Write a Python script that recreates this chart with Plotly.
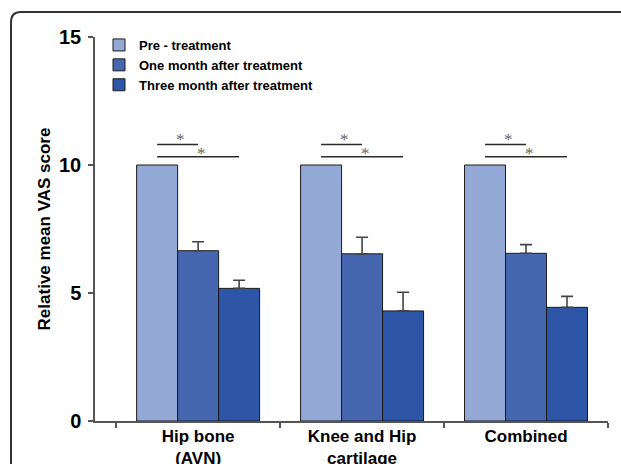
import plotly.graph_objects as go

# ---- data ----
categories = ["Hip bone<br>(AVN)", "Knee and Hip<br>cartilage", "Combined"]
series_names = ["Pre - treatment", "One month after treatment", "Three month after treatment"]
pre_values = [10, 10, 10]
one_month_values = [6.65, 6.53, 6.55]
one_month_err = [0.35, 0.65, 0.34]
three_month_values = [5.18, 4.30, 4.44]
three_month_err = [0.32, 0.73, 0.43]
y_tick_values = [0, 5, 10, 15]
sig_label = "*"

colors = ["#94A8D5", "#4666AF", "#2D56A8"]
FONT = "Liberation Sans, Arial, Helvetica, sans-serif"

W, H = 621, 464
ML, MR, MT, MB = 95, 13, 37, 43

fig = go.Figure()
bar_line = dict(color="#1a1a1a", width=1)
err_style = dict(type="data", symmetric=False, color="#444444", thickness=1.6, width=6)

fig.add_trace(go.Bar(name=series_names[0], x=categories, y=pre_values,
                     marker=dict(color=colors[0], line=bar_line)))
fig.add_trace(go.Bar(name=series_names[1], x=categories, y=one_month_values,
                     marker=dict(color=colors[1], line=bar_line),
                     error_y=dict(array=one_month_err, arrayminus=[0] * 3, **err_style)))
fig.add_trace(go.Bar(name=series_names[2], x=categories, y=three_month_values,
                     marker=dict(color=colors[2], line=bar_line),
                     error_y=dict(array=three_month_err, arrayminus=[0] * 3, **err_style)))

# significance brackets
bar_w = 0.25
shapes = []
annotations = []
levels = [(1, 10.80, 11.00), (2, 10.32, 10.43)]
for i in range(len(categories)):
    for target, ly, sy in levels:
        x0 = i - bar_w
        x1 = i + (target - 1) * bar_w
        shapes.append(dict(type="line", xref="x", yref="y", x0=x0, x1=x1, y0=ly, y1=ly,
                           line=dict(color="#2a2a2a", width=1.6)))
        annotations.append(dict(x=(x0 + x1) / 2 + 0.02, y=sy, xref="x", yref="y",
                                text=sig_label, showarrow=False,
                                font=dict(family="Liberation Serif, serif", size=17, color="#666666"),
                                yanchor="middle", xanchor="center"))

# rounded frame around the figure
pw = W - ML - MR
ph = H - MT - MB
def px_x(p):
    return (p - ML) / pw
def px_y(p):
    return (H - MB - p) / ph
r = 10
left, top = 11, 12
path = (f"M {px_x(left)},{px_y(480)} L {px_x(left)},{px_y(top + r)} "
        f"Q {px_x(left)},{px_y(top)} {px_x(left + r)},{px_y(top)} L {px_x(640)},{px_y(top)}")
shapes.append(dict(type="path", xref="paper", yref="paper", path=path,
                   line=dict(color="#333333", width=2)))

fig.update_layout(
    width=W, height=H,
    margin=dict(l=ML, r=MR, t=MT, b=MB, pad=0, autoexpand=False),
    paper_bgcolor="white", plot_bgcolor="white",
    barmode="group", bargap=0.25, bargroupgap=0,
    font=dict(family=FONT, color="black"),
    showlegend=True,
    legend=dict(x=px_x(99), y=px_y(30), xanchor="left", yanchor="top",
                font=dict(family=FONT, size=13, color="black", weight="bold"),
                bgcolor="rgba(0,0,0,0)", itemclick=False, tracegroupgap=0),
    shapes=shapes, annotations=annotations,
    xaxis=dict(type="category", range=[-0.629, 2.5], showline=True, linecolor="#555555",
               linewidth=1.5, ticks="outside", tickson="boundaries", ticklen=5,
               tickcolor="#555555", tickwidth=1.5, showgrid=False, zeroline=False,
               automargin=False, ticklabelstandoff=-1,
               tickfont=dict(family=FONT, size=17, color="black", weight="bold")),
    yaxis=dict(range=[0, 15], tickvals=y_tick_values, showline=True, linecolor="#555555",
               linewidth=1.5, ticks="outside", ticklen=5, tickcolor="#555555", tickwidth=1.5,
               showgrid=False, zeroline=False, automargin=False, ticklabelstandoff=3,
               tickfont=dict(family=FONT, size=20, color="black", weight="bold"),
               title=dict(text="Relative mean VAS score", standoff=4,
                          font=dict(family=FONT, size=17, color="black", weight="bold"))),
)

fig.write_html("out.html", config={"displayModeBar": False},
               post_script="document.body.style.margin='0';document.body.style.overflow='hidden';")
